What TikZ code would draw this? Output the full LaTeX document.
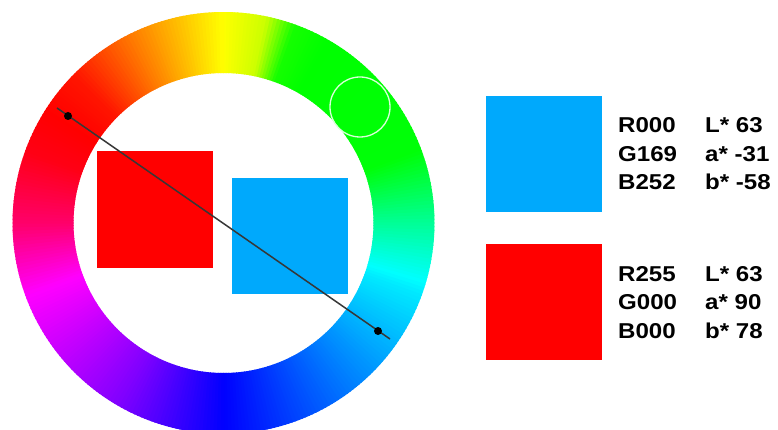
\documentclass[tikz,border=0pt]{standalone}
\usepackage{fontspec}
\usepackage{xcolor}
\usepackage{tikz}

\newfontfamily\valfont[FakeStretch=1.12]{Liberation Sans Bold}
\definecolor{skyblue}{RGB}{0,169,252}
\definecolor{purered}{RGB}{255,0,0}
\definecolor{axisgray}{RGB}{55,55,55}

\tikzset{
  swatch/.style={rectangle, minimum size=116pt, inner sep=0pt, draw=none},
  valtext/.style={anchor=base west, inner sep=0pt, font=\valfont\fontsize{21.5}{21.5}\selectfont},
  enddot/.style={circle, fill=black, inner sep=0pt, minimum size=8pt},
}

\begin{document}
\begin{tikzpicture}[x=1pt, y=-1pt]
    \clip (0,0) rectangle (778,430);
    \fill[white] (0,0) rectangle (778,430);

    % hue ring, angle/hue key points going clockwise from the top
    \begin{scope}[shift={(223.5,223)}]
      \foreach \ta/\ha/\tb/\hb in {90/60/78/72, 78/72/70/115, 70/115/60/120,
          60/120/20/122, 20/122/0/155, 0/155/-20/185, -20/185/-45/205,
          -45/205/-90/240, -90/240/-120/270, -120/270/-160/300,
          -160/300/-180/335, -180/335/-200/355, -200/355/-225/365,
          -225/365/-245/390, -245/390/-270/420} {
        \pgfmathtruncatemacro\nsteps{\ta-\tb-1}
        \foreach \s in {0,...,\nsteps} {
          \pgfmathsetmacro\hue{mod(\ha+(\hb-\ha)*(\s+0.5)/(\ta-\tb),360)}
          \pgfmathsetmacro\th{\ta-\s}
          \definecolor{wheelhue}{Hsb}{\hue,1,1}
          \fill[wheelhue] (-\th-0.2:211) -- (-\th+1.2:211) -- (-\th+1.2:150) -- (-\th-0.2:150) -- cycle;
        }
      }
    \end{scope}

    % swatches inside the ring
    \node[swatch, fill=purered] (redin) at (155,209.5) {};
    \node[swatch, fill=skyblue] (bluein) at (290,236) {};

    % complementary axis
    \coordinate (axisstart) at (57,108);
    \coordinate (axisend) at (390,339);
    \draw[axisgray, line width=1.5pt] (axisstart) -- (axisend);
    \node[enddot] (dotred) at (68,116) {};
    \node[enddot] (dotblue) at (378,331) {};

    % picked hue
    \node[circle, draw=white!85!green, line width=1.3pt, minimum size=60pt, inner sep=0pt] (picker) at (360,107) {};

    % blue swatch and values
    \node[swatch, fill=skyblue] (blueout) at (544,154.5) {};
    \node[valtext] (bR) at (618,133) {R000};
    \node[valtext] (bG) at (618,161.5) {G169};
    \node[valtext] (bB) at (618,190) {B252};
    \node[valtext] (bL) at (705,133) {L* 63};
    \node[valtext] (ba) at (705,161.5) {a* -31};
    \node[valtext] (bb) at (705,190) {b* -58};

    % red swatch and values
    \node[swatch, fill=purered] (redout) at (544,302) {};
    \node[valtext] (rR) at (618,281) {R255};
    \node[valtext] (rG) at (618,309.5) {G000};
    \node[valtext] (rB) at (618,338) {B000};
    \node[valtext] (rL) at (705,281) {L* 63};
    \node[valtext] (ra) at (705,309.5) {a* 90};
    \node[valtext] (rb) at (705,338) {b* 78};
\end{tikzpicture}
\end{document}
